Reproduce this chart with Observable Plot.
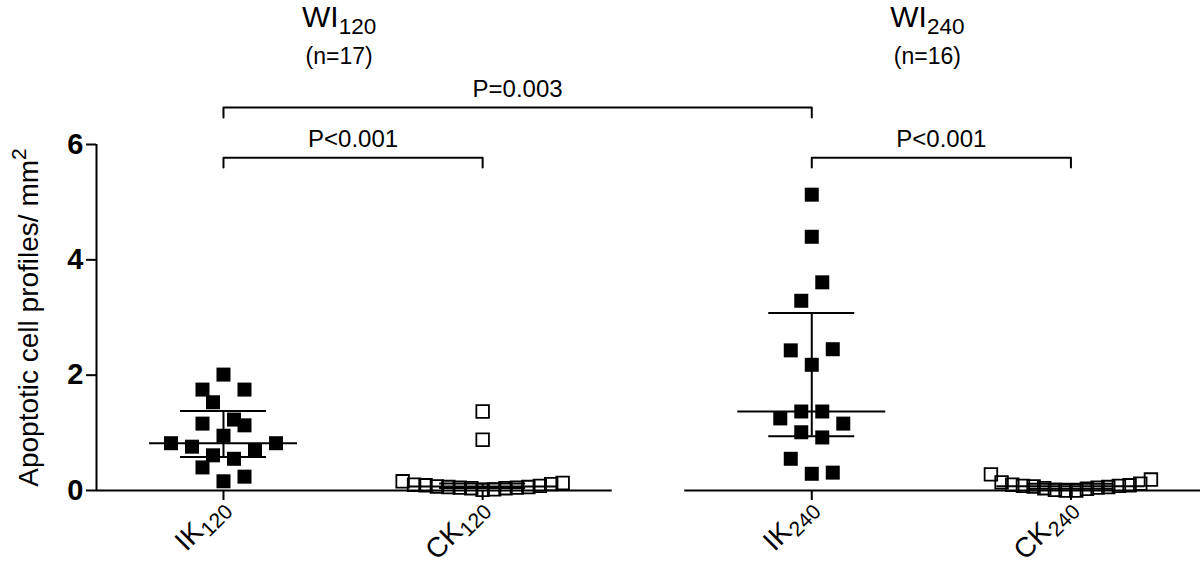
<!DOCTYPE html>
<html>
<head>
<meta charset="utf-8">
<script src="https://cdn.jsdelivr.net/npm/d3@7"></script>
<script src="https://cdn.jsdelivr.net/npm/@observablehq/plot@0.6"></script>
<style>
  html, body { margin: 0; padding: 0; background: #fff; }
  #chart svg { display: block; }
</style>
</head>
<body>
<div id="chart"></div>
<script>
// ---------- data (listed top-down, left-to-right as plotted) ----------
const groupTitles = ["WI_120", "WI_240"];
const groupCounts = ["(n=17)", "(n=16)"];
const categories = ["IK_120", "CK_120", "IK_240", "CK_240"];
const valuesIK120 = [1.75, 2.01, 1.75, 1.53, 1.23, 1.16, 0.95, 1.13, 0.82, 0.76, 0.61, 0.55, 0.69, 0.82, 0.40, 0.16, 0.24];
const valuesCK120 = [0.16, 0.10, 0.09, 0.07, 0.06, 0.05, 0.04, 0.01, 0.02, 0.04, 0.05, 0.06, 0.08, 0.11, 0.13, 1.37, 0.88];
const valuesIK240 = [5.13, 4.40, 3.29, 3.61, 2.43, 2.18, 2.45, 1.25, 1.37, 1.37, 1.16, 1.01, 0.92, 0.55, 0.29, 0.31];
const valuesCK240 = [0.28, 0.14, 0.10, 0.08, 0.07, 0.04, 0.01, 0.00, 0.00, 0.03, 0.05, 0.06, 0.08, 0.09, 0.12, 0.19];
const seriesValues = [valuesIK120, valuesCK120, valuesIK240, valuesCK240];
const comparisonFrom = [0, 2, 0];
const comparisonTo = [1, 3, 2];
const comparisonLabels = ["P<0.001", "P<0.001", "P=0.003"];
const yTicks = [0, 2, 4, 6];
const yLabel = "Apoptotic cell profiles/ mm^2";

// ---------- layout ----------
const W = 1200, H = 576;
const mL = 96, mR = 0, mT = 144, mB = 86;
const groupSpan = 2.27;          // distance between group starts (in category units)
const padL = 0.49, padR = 0.50;  // axis segment overhang
const xMin = -padL, xMax = groupSpan + 1 + padR;
const yMax = 6;
const pxX = (W - mL - mR) / (xMax - xMin);
const pxY = (H - mT - mB) / yMax;

const catX = categories.map((c, i) => Math.floor(i / 2) * groupSpan + (i % 2));

// Prism-like column scatter: points grouped into rows (top-down), each row centred,
// columns compressed when too wide. Returns offsets in x units.
function columnScatter(values, rowTol, spacing, maxHalf) {
  const order = d3.range(values.length).sort((a, b) => values[b] - values[a] || a - b);
  const rows = [];
  let cur = null;
  for (const i of order) {
    if (!cur || cur.start - values[i] >= rowTol) { cur = {start: values[i], idx: []}; rows.push(cur); }
    cur.idx.push(i);
  }
  const off = new Array(values.length);
  for (const r of rows) {
    r.idx.sort((a, b) => a - b);
    const m = r.idx.length;
    r.idx.forEach((i, j) => off[i] = (j - (m - 1) / 2) * spacing);
  }
  const mx = d3.max(off, Math.abs) || 1;
  const s = mx > maxHalf ? maxHalf / mx : 1;
  return off.map(o => o * s / pxX);
}

// quartiles with (n+1) method
function pct(values, p) {
  const s = values.slice().sort((a, b) => a - b), n = s.length;
  const pos = p * (n + 1);
  const lo = Math.min(Math.max(Math.floor(pos), 1), n), hi = Math.min(lo + 1, n);
  const f = Math.max(0, Math.min(1, pos - Math.floor(pos)));
  return s[lo - 1] + f * (s[hi - 1] - s[lo - 1]);
}

const points = [];
const stats = [];
seriesValues.forEach((vals, i) => {
  const offs = columnScatter(vals, 0.33, 21, 80);
  vals.forEach((v, j) => points.push({cat: i, open: i % 2 === 1, x: catX[i] + offs[j], v}));
  stats.push({x: catX[i], q1: pct(vals, 0.25), med: pct(vals, 0.5), q3: pct(vals, 0.75)});
});

const medHalf = 74 / pxX, capHalf = 43 / pxX;

const groupsData = groupTitles.map((t, g) => ({
  g, title: t, count: groupCounts[g],
  x1: g * groupSpan - padL, x2: g * groupSpan + 1 + padR, mid: g * groupSpan + 0.5
}));

// brackets
const bracketBase = 5.77, bracketStep = 0.87, bracketDrop = 0.17, bracketText = 0.18;
const bracketPts = [], bracketLbl = [];
comparisonLabels.forEach((lab, i) => {
  const a = catX[comparisonFrom[i]], b = catX[comparisonTo[i]];
  const level = (comparisonTo[i] - comparisonFrom[i]) > 1 ? 1 : 0;
  const yb = bracketBase + level * bracketStep;
  bracketPts.push({id: i, x: a, y: yb - bracketDrop}, {id: i, x: a, y: yb},
                  {id: i, x: b, y: yb}, {id: i, x: b, y: yb - bracketDrop});
  bracketLbl.push({x: (a + b) / 2, y: yb + bracketText, text: lab});
});

const font = "'Liberation Sans', Arial, Helvetica, sans-serif";

const plot = Plot.plot({
  width: W, height: H,
  marginLeft: mL, marginRight: mR, marginTop: mT, marginBottom: mB,
  x: {domain: [xMin, xMax], axis: null},
  y: {domain: [0, yMax], axis: null},
  style: {fontFamily: font, color: "#000", background: "#fff", overflow: "visible"},
  marks: [
    // axis lines
    Plot.ruleY(groupsData, {y: 0, x1: "x1", x2: "x2", stroke: "#000", strokeWidth: 2}),
    Plot.ruleX([xMin], {y1: 0, y2: yMax, stroke: "#000", strokeWidth: 2}),
    Plot.axisY(yTicks, {tickSize: 10, tickPadding: 3, fontSize: 29, fontWeight: "bold", label: null, strokeWidth: 2, tickFormat: d => String(d)}),
    Plot.axisX(catX, {tickSize: 10, tickPadding: 2, tickRotate: -45, fontSize: 28, label: null, strokeWidth: 2,
      tickFormat: d => categories[catX.indexOf(d)]}),
    // y label
    Plot.text([yLabel], {frameAnchor: "left", text: d => d, rotate: -90, dx: -59, fontSize: 28,
      textAnchor: "middle", lineAnchor: "bottom"}),
    // points
    Plot.dot(points.filter(d => !d.open), {x: "x", y: "v", symbol: "square", r: 7.9, fill: "#000", stroke: "none"}),
    Plot.dot(points.filter(d => d.open), {x: "x", y: "v", symbol: "square", r: 7.1, fill: "none", stroke: "#000", strokeWidth: 1.8}),
    // median + IQR
    Plot.ruleX(stats, {x: "x", y1: "q1", y2: "q3", stroke: "#000", strokeWidth: 2}),
    Plot.ruleY(stats, {y: "med", x1: d => d.x - medHalf, x2: d => d.x + medHalf, stroke: "#000", strokeWidth: 2}),
    Plot.ruleY(stats, {y: "q1", x1: d => d.x - capHalf, x2: d => d.x + capHalf, stroke: "#000", strokeWidth: 2}),
    Plot.ruleY(stats, {y: "q3", x1: d => d.x - capHalf, x2: d => d.x + capHalf, stroke: "#000", strokeWidth: 2}),
    // brackets
    Plot.line(bracketPts, {x: "x", y: "y", z: "id", stroke: "#000", strokeWidth: 2, curve: "linear"}),
    Plot.text(bracketLbl, {x: "x", y: "y", text: "text", fontSize: 24, textAnchor: "middle", lineAnchor: "bottom"}),
    // group titles
    Plot.text(groupsData, {x: "mid", y: () => 8.03, text: "title", dx: -14, fontSize: 30, textAnchor: "middle", lineAnchor: "bottom"}),
    Plot.text(groupsData, {x: "mid", y: () => 7.39, text: "count", dx: -14, fontSize: 23, textAnchor: "middle", lineAnchor: "bottom"})
  ]
});

// subscripts / superscripts as tspans
plot.querySelectorAll("text").forEach(t => {
  const s = t.textContent;
  const m = s.match(/^(.*?)([_^])(.+)$/);
  if (!m || t.children.length) return;
  t.textContent = "";
  t.appendChild(document.createTextNode(m[1]));
  const ts = document.createElementNS("http://www.w3.org/2000/svg", "tspan");
  ts.setAttribute("font-size", "0.75em");
  ts.setAttribute("dy", m[2] === "_" ? "0.28em" : "-0.55em");
  ts.textContent = m[3];
  t.appendChild(ts);
});

document.getElementById("chart").appendChild(plot);
</script>
</body>
</html>
